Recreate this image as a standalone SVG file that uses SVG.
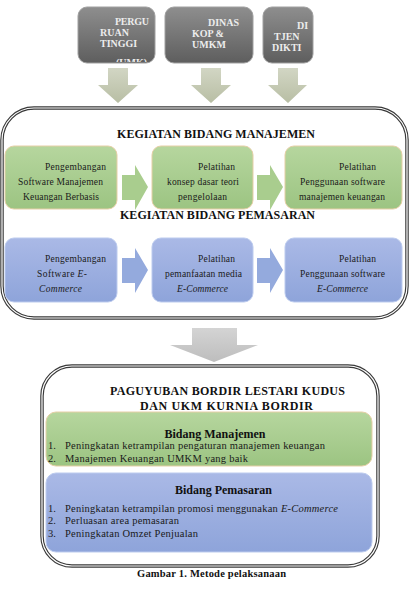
<svg xmlns="http://www.w3.org/2000/svg" width="410" height="589" viewBox="0 0 410 589" font-family="'Liberation Serif', 'Times New Roman', 'DejaVu Serif', serif">
<defs>
<linearGradient id="gGray" x1="0" y1="0" x2="0" y2="1"><stop offset="0" stop-color="#8e8e8e"/><stop offset="1" stop-color="#5e5e5e"/></linearGradient>
<linearGradient id="gGreen" x1="0" y1="0" x2="0" y2="1"><stop offset="0" stop-color="#b6d69e"/><stop offset="1" stop-color="#9cc482"/></linearGradient>
<linearGradient id="gBlue" x1="0" y1="0" x2="0" y2="1"><stop offset="0" stop-color="#aab9e6"/><stop offset="1" stop-color="#8ea4da"/></linearGradient>
<linearGradient id="gArrow" x1="0" y1="0" x2="0" y2="1"><stop offset="0" stop-color="#d2d6c4"/><stop offset="1" stop-color="#b8bea4"/></linearGradient>
<linearGradient id="gArrowB" x1="0" y1="0" x2="0" y2="1"><stop offset="0" stop-color="#d4d4d4"/><stop offset="1" stop-color="#bdbdbd"/></linearGradient>
<clipPath id="c1"><rect x="78" y="7" width="77" height="55" rx="9"/></clipPath>
<style>
text{font-family:'Liberation Serif','Times New Roman','DejaVu Serif',serif}
.gb{fill:url(#gGray);stroke:#a0a0a0;stroke-width:1}
.gt{font-weight:bold;font-size:10px;fill:#ececec}
.grn{fill:url(#gGreen);stroke:#e6cfa6;stroke-width:1}
.blu{fill:url(#gBlue);stroke:#bccbee;stroke-width:1}
.t{font-size:9.5px;fill:#1a1a1a}
.i{font-style:italic}
.h{font-weight:bold;font-size:12px;fill:#111}
.l{font-size:10.5px;fill:#1a1a1a}
.outer{fill:#fff;stroke:#3a3a3a;stroke-width:3.5}
.outin{fill:none;stroke:#fff;stroke-width:1.2}
</style>
</defs>

<g id="sources">
<g id="pt">
<rect class="gb" x="78" y="7" width="77" height="56" rx="9"/>
<g clip-path="url(#c1)">
<text class="gt" x="115" y="25" textLength="34">PERGU</text>
<text class="gt" x="100" y="36">RUAN</text>
<text class="gt" x="100" y="47">TINGGI</text>
<text class="gt" x="116" y="66">(UMK)</text>
</g>
</g>
<g id="dinas">
<rect class="gb" x="165" y="7" width="88" height="56" rx="9"/>
<text class="gt" x="208" y="26">DINAS</text>
<text class="gt" x="192" y="37">KOP &amp;</text>
<text class="gt" x="192" y="48">UMKM</text>
</g>
<g id="dikti">
<rect class="gb" x="263" y="7" width="50" height="56" rx="9"/>
<text class="gt" x="297" y="29">DI</text>
<text class="gt" x="274" y="40">TJEN</text>
<text class="gt" x="272" y="51">DIKTI</text>
</g>
</g>

<g id="connectors">
<polygon fill="url(#gArrow)" points="108,68 128,68 128,85 138,85 118,103 98,85 108,85"/>
<polygon fill="url(#gArrow)" points="201,68 221,68 221,85 231,85 211,103 191,85 201,85"/>
<polygon fill="url(#gArrow)" points="278,68 298,68 298,85 307,85 288,103 268,85 278,85"/>
<polygon fill="url(#gArrowB)" points="192,328 237,328 237,345 258,345 214,362 170,345 192,345"/>
</g>

<g id="kegiatan">
<rect class="outer" x="2" y="108" width="405" height="210" rx="32"/>
<rect class="outin" x="2" y="108" width="405" height="210" rx="32"/>
<text class="h" x="117" y="138" textLength="198">KEGIATAN BIDANG MANAJEMEN</text>
<text class="h" x="120" y="219" textLength="195">KEGIATAN BIDANG PEMASARAN</text>

<g id="m1">
<rect class="grn" x="5" y="146" width="112" height="63" rx="9"/>
<text class="t" x="45" y="170" textLength="61">Pengembangan</text>
<text class="t" x="18" y="185" textLength="85">Software Manajemen</text>
<text class="t" x="23" y="200" textLength="76">Keuangan Berbasis</text>
</g>
<g id="m2">
<rect class="grn" x="152" y="146" width="101" height="63" rx="9"/>
<text class="t" x="198" y="170" textLength="37">Pelatihan</text>
<text class="t" x="167" y="185" textLength="72">konsep dasar teori</text>
<text class="t" x="178" y="200" textLength="49">pengelolaan</text>
</g>
<g id="m3">
<rect class="grn" x="285" y="146" width="117" height="63" rx="9"/>
<text class="t" x="339" y="170" textLength="37">Pelatihan</text>
<text class="t" x="300" y="185" textLength="85">Penggunaan software</text>
<text class="t" x="299" y="200" textLength="86">manajemen keuangan</text>
</g>
<g id="p1">
<rect class="blu" x="5" y="238" width="112" height="64" rx="9"/>
<text class="t" x="45" y="262" textLength="61">Pengembangan</text>
<text class="t" x="37" y="277" textLength="50">Software <tspan class="i">E-</tspan></text>
<text class="t i" x="39" y="292" textLength="43">Commerce</text>
</g>
<g id="p2">
<rect class="blu" x="152" y="238" width="101" height="64" rx="9"/>
<text class="t" x="198" y="262" textLength="37">Pelatihan</text>
<text class="t" x="165" y="277" textLength="77">pemanfaatan media</text>
<text class="t i" x="177" y="292" textLength="51">E-Commerce</text>
</g>
<g id="p3">
<rect class="blu" x="285" y="238" width="117" height="64" rx="9"/>
<text class="t" x="339" y="262" textLength="37">Pelatihan</text>
<text class="t" x="300" y="277" textLength="85">Penggunaan software</text>
<text class="t i" x="317" y="292" textLength="51">E-Commerce</text>
</g>
</g>

<g id="row-arrows">
<polygon fill="#a9cd8e" points="122,175 135,175 135,165 148,187 135,210 135,200 122,200"/>
<polygon fill="#a9cd8e" points="257,175 270,175 270,165 283,187 270,210 270,200 257,200"/>
<polygon fill="#94aadd" points="122,258 135,258 135,248 148,270 135,293 135,283 122,283"/>
<polygon fill="#94aadd" points="257,258 270,258 270,248 283,270 270,293 270,283 257,283"/>
</g>

<g id="paguyuban">
<rect class="outer" x="42" y="366" width="336" height="200" rx="30"/>
<rect class="outin" x="42" y="366" width="336" height="200" rx="30"/>
<text class="h" x="110" y="395" textLength="235">PAGUYUBAN BORDIR LESTARI KUDUS</text>
<text class="h" x="140" y="410" textLength="173">DAN UKM KURNIA BORDIR</text>
<g id="bm">
<rect class="grn" x="46" y="412" width="326" height="54" rx="10"/>
<text class="h" x="215" y="438" text-anchor="middle">Bidang Manajemen</text>
<text class="l" x="48" y="449">1.</text>
<text class="l" x="65" y="449" textLength="260">Peningkatan ketrampilan pengaturan manajemen keuangan</text>
<text class="l" x="48" y="462">2.</text>
<text class="l" x="65" y="462" textLength="183">Manajemen Keuangan UMKM yang baik</text>
</g>
<g id="bp">
<rect class="blu" x="46" y="473" width="326" height="79" rx="10"/>
<text class="h" x="175" y="494" textLength="97">Bidang Pemasaran</text>
<text class="l" x="48" y="512">1.</text>
<text class="l" x="65" y="512" textLength="273">Peningkatan ketrampilan promosi menggunakan <tspan class="i">E-Commerce</tspan></text>
<text class="l" x="48" y="524">2.</text>
<text class="l" x="65" y="524" textLength="114">Perluasan area pemasaran</text>
<text class="l" x="48" y="537">3.</text>
<text class="l" x="65" y="537" textLength="133">Peningkatan Omzet Penjualan</text>
</g>
</g>

<text class="h" x="137" y="577" textLength="149" style="font-size:10.5px">Gambar 1. Metode pelaksanaan</text>
</svg>
